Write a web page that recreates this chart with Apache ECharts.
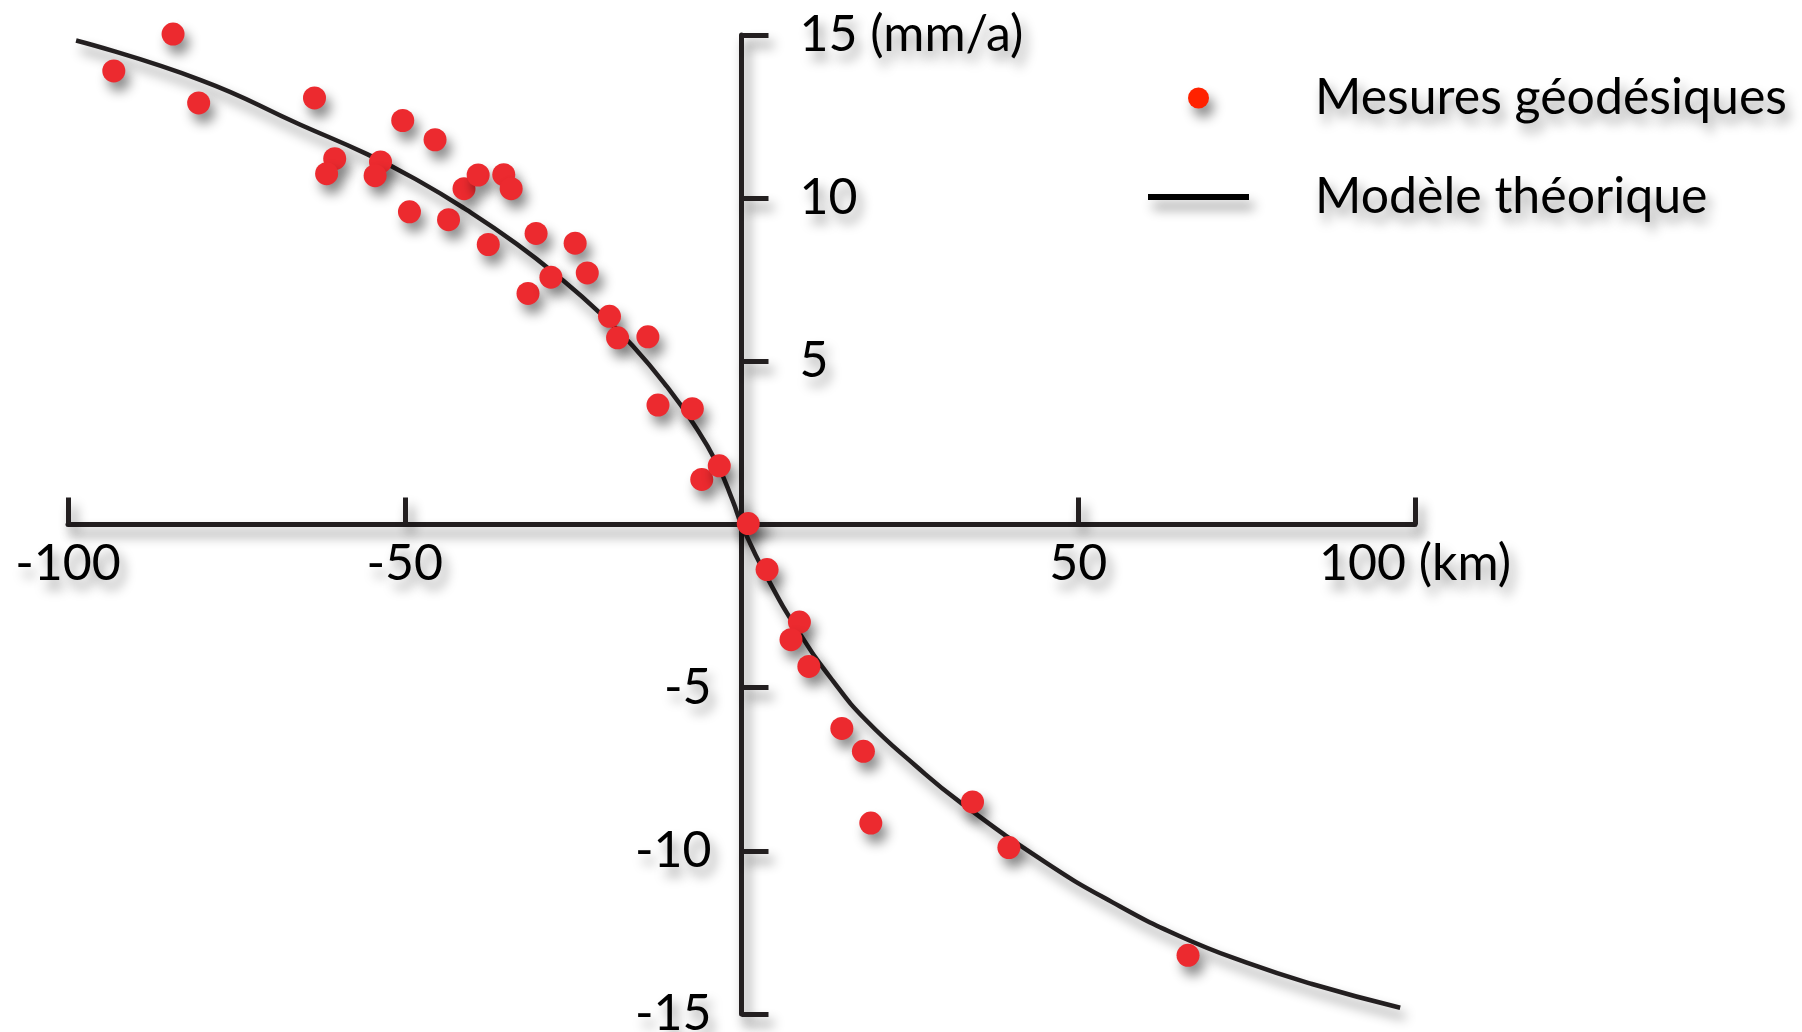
<!DOCTYPE html>
<html>
<head>
  <meta charset="utf-8">
  <title>Mesures géodésiques</title>
  <script src="https://cdn.jsdelivr.net/npm/echarts@6/dist/echarts.min.js"></script>
  <style>
    html, body {
      margin: 0;
      padding: 0;
      background: #ffffff;
    }

    #chart {
      width: 1802px;
      height: 1032px;
    }
  </style>
</head>
<body>
<div id="chart"></div>

<script>
  // données
  const mesuresKm = [-93.2, -84.4, -80.6, -63.4, -60.4, -61.6, -53.6, -54.4, -50.3, -45.5,
    -49.3, -43.5, -41.2, -39.1, -35.3, -34.2, -37.6, -30.5, -24.7, -31.7,
    -28.3, -22.9, -19.6, -18.4, -13.9, -12.4, -7.3, -5.9, -3.3, 1.0,
    3.8, 8.6, 7.35, 10.0, 14.9, 18.1, 19.2, 34.3, 39.7, 66.3]
  const mesuresVitesse = [13.9, 15.03, 12.92, 13.07, 11.21, 10.75, 11.11, 10.69, 12.38, 11.79,
    9.58, 9.34, 10.29, 10.71, 10.72, 10.29, 8.58, 8.92, 8.62, 7.08,
    7.58, 7.71, 6.38, 5.72, 5.75, 3.66, 3.55, 1.38, 1.80, 0.03,
    -1.38, -2.99, -3.53, -4.35, -6.25, -6.95, -9.15, -8.5, -9.90, -13.2]

  const modeleKm = [-98.8, -80.3, -65.5, -55.6, -48.2, -40.8, -33.4, -26.9, -21.0, -16.1,
    -11.1, -7.2, -3.7, -1.25, 0, 3.7, 8.6, 13.6, 18.5, 25.9,
    32.4, 45.2, 55.1, 65.0, 74.9, 84.7, 97.8]
  const modeleVitesse = [14.83, 13.62, 12.25, 11.35, 10.56, 9.64, 8.6, 7.55, 6.48, 5.46,
    4.23, 3.11, 1.89, 0.7, 0, -1.58, -3.32, -4.8, -6.0, -7.4,
    -8.5, -10.36, -11.58, -12.61, -13.42, -14.08, -14.81]

  // graduations
  const xTicks = [-100, -50, 50, 100]
  const yTicks = [-15, -10, -5, 5, 10, 15]
  const xUnite = '(km)'
  const yUnite = '(mm/a)'

  const nomMesures = 'Mesures géodésiques'
  const nomModele = 'Modèle théorique'

  const police = 'Lato, "Noto Sans", sans-serif'
  const taille = 50
  const noir = '#231f20'

  // ombre portée commune
  const ombre = {
    shadowColor: 'rgba(0, 0, 0, 0.45)',
    shadowBlur: 12,
    shadowOffsetX: 5,
    shadowOffsetY: 9
  }
  const ombreTexte = {
    textShadowColor: 'rgba(0, 0, 0, 0.4)',
    textShadowBlur: 12,
    textShadowOffsetX: 5,
    textShadowOffsetY: 9
  }

  const pointsMesures = mesuresKm.map((x, i) => [x, mesuresVitesse[i]])
  const pointsModele = modeleKm.map((x, i) => [x, modeleVitesse[i]])

  // marges de la grille ; les axes sont ramenés au centre (0, 0) par offset
  const gridLeft = 68
  const gridRight = 387
  const gridTop = 35
  const gridBottom = 18
  const largeurGrille = 1802 - gridLeft - gridRight
  const hauteurGrille = 1032 - gridTop - gridBottom

  let myChart = echarts.init(document.getElementById('chart'), null, {renderer: 'canvas'})

  myChart.setOption({
    backgroundColor: '#ffffff',
    animation: false,
    legend: {
      orient: 'vertical',
      left: 1143,
      top: 68,
      itemWidth: 101,
      itemHeight: 21,
      itemGap: 49,
      selectedMode: false,
      textStyle: Object.assign({
        fontFamily: police,
        fontSize: taille,
        lineHeight: 50,
        color: '#000000',
        padding: [0, 0, 0, 61]
      }, ombreTexte),
      data: [
        {
          name: nomMesures,
          icon: 'circle',
          itemStyle: Object.assign({color: '#ff2200'}, ombre)
        },
        {
          name: nomModele,
          // trait horizontal simple
          icon: 'path://M0,0L100,0L100,6L0,6Z',
          itemStyle: Object.assign({color: '#000000'}, ombre)
        }
      ]
    },
    grid: {
      left: gridLeft,
      right: gridRight,
      top: gridTop,
      bottom: gridBottom,
      containLabel: false,
      outerBoundsMode: 'none'
    },
    xAxis: {
      type: 'value',
      min: -100,
      max: 100,
      interval: 50,
      position: 'bottom',
      offset: -hauteurGrille / 2,
      splitLine: {show: false},
      axisLine: {
        onZero: false,
        lineStyle: Object.assign({color: noir, width: 5}, ombre)
      },
      axisTick: {
        inside: true,
        length: 27,
        lineStyle: Object.assign({color: noir, width: 5}, ombre)
      },
      axisLabel: Object.assign({
        margin: 14,
        fontFamily: police,
        fontSize: taille,
        color: '#000000',
        showMinLabel: true,
        showMaxLabel: true,
        formatter: function (v) {
          if (xTicks.indexOf(v) < 0) return ''
          return v === 100 ? v + ' ' + xUnite : String(v)
        }
      }, ombreTexte)
    },
    yAxis: [{
      // axe principal : trait, graduations et valeurs négatives à gauche
      type: 'value',
      min: -15,
      max: 15,
      interval: 5,
      position: 'left',
      offset: -largeurGrille / 2,
      splitLine: {show: false},
      axisLine: {
        onZero: false,
        lineStyle: Object.assign({color: noir, width: 5}, ombre)
      },
      axisTick: {
        inside: true,
        length: 27,
        lineStyle: Object.assign({color: noir, width: 5}, ombre)
      },
      axisLabel: Object.assign({
        margin: 30,
        fontFamily: police,
        fontSize: taille,
        color: '#000000',
        showMinLabel: true,
        showMaxLabel: true,
        formatter: function (v) {
          return (v < 0 && yTicks.indexOf(v) >= 0) ? String(v) : ''
        }
      }, ombreTexte)
    }, {
      // second axe au même endroit : valeurs positives à droite du trait
      type: 'value',
      min: -15,
      max: 15,
      interval: 5,
      position: 'right',
      offset: -largeurGrille / 2,
      splitLine: {show: false},
      axisLine: {show: false, onZero: false},
      axisTick: {show: false},
      axisLabel: Object.assign({
        margin: 58,
        fontFamily: police,
        fontSize: taille,
        color: '#000000',
        showMinLabel: true,
        showMaxLabel: true,
        formatter: function (v) {
          if (v <= 0 || yTicks.indexOf(v) < 0) return ''
          return v === 15 ? v + ' ' + yUnite : String(v)
        }
      }, ombreTexte)
    }],
    series: [
      {
        name: nomModele,
        type: 'line',
        data: pointsModele,
        smooth: 0.5,
        symbol: 'none',
        clip: false,
        lineStyle: Object.assign({color: noir, width: 4.5}, ombre),
        z: 3
      },
      {
        name: nomMesures,
        type: 'scatter',
        data: pointsMesures,
        symbol: 'circle',
        symbolSize: 23,
        clip: false,
        itemStyle: Object.assign({color: '#ec2a2f', opacity: 1}, ombre),
        z: 4
      }
    ]
  })
</script>
</body>
</html>
